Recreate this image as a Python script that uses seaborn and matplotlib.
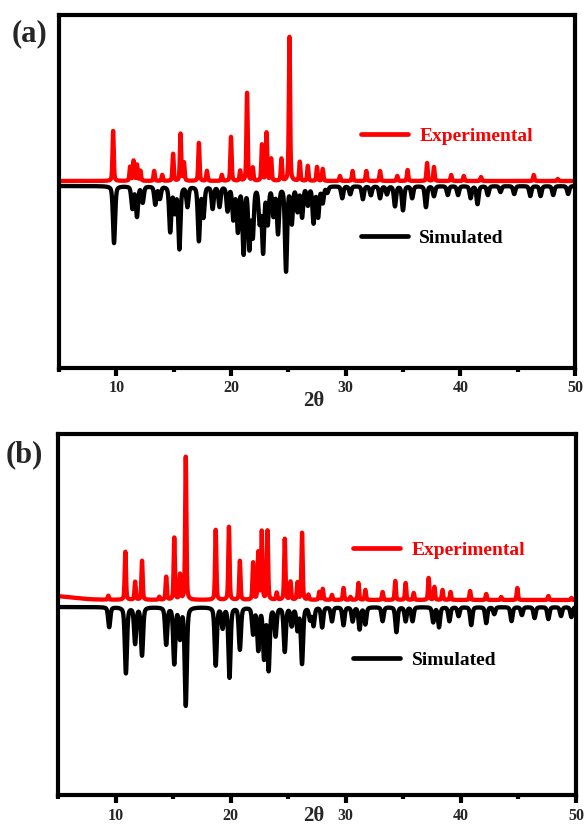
import numpy as np
import pandas as pd
import matplotlib
matplotlib.use("Agg")
import matplotlib.pyplot as plt
from matplotlib.lines import Line2D
from matplotlib.ticker import MultipleLocator
import seaborn as sns

# ---- peak lists (2theta position, intensity in arbitrary units) ----
# (a) experimental
a_exp_pos = [9.72, 11.2, 11.5, 11.8, 12.1, 13.3, 14.0, 14.95, 15.6, 15.9, 17.2, 17.9,
             19.2, 20.0, 20.8, 21.4, 21.9, 22.7, 23.1, 23.5, 24.4, 25.1, 26.0, 26.7,
             27.5, 28.0, 29.5, 30.6, 31.8, 33.0, 34.5, 35.4, 37.1, 37.7, 39.2, 40.3,
             41.8, 46.4, 48.5]
a_exp_int = [50, 14, 20, 16, 10, 10, 6, 27, 47, 18, 38, 10,
             6, 44, 10, 88, 13, 36, 48, 22, 22, 144, 19, 15,
             14, 12, 5, 10, 10, 10, 5, 11, 18, 14, 6, 5,
             4, 6, 2]
# (a) simulated
a_sim_pos = [9.8, 11.4, 11.8, 12.3, 13.4, 13.8, 14.7, 15.1, 15.5, 16.2, 17.2, 17.6,
             18.4, 19.0, 19.7, 20.2, 20.6, 21.1, 21.6, 21.9, 22.5, 22.8, 23.2, 23.7,
             24.1, 24.8, 25.3, 25.8, 26.2, 26.7, 27.2, 27.6, 28.0, 28.4, 29.7, 30.4,
             31.5, 32.2, 33.0, 33.6, 34.3, 35.0, 35.8, 37.0, 37.7, 38.9, 39.8, 40.9,
             41.5, 42.4, 43.5, 44.7, 46.1, 47.0, 48.1, 49.4]
a_sim_int = [57, 22, 30, 16, 18, 12, 45, 25, 62, 20, 54, 30,
             22, 20, 24, 32, 44, 66, 60, 48, 34, 64, 36, 28,
             46, 84, 36, 24, 30, 18, 36, 30, 16, 6, 12, 8,
             13, 9, 12, 8, 20, 24, 12, 21, 10, 9, 9, 12,
             18, 9, 6, 8, 10, 10, 9, 8]
# (b) experimental (first entry: broad low-angle background)
b_exp_pos = [4.5, 9.37, 10.85, 11.7, 12.3, 13.8, 14.4, 15.1, 15.6, 16.1, 18.7, 19.85,
             20.8, 21.95, 22.4, 22.7, 23.2, 24.0, 24.7, 25.2, 25.8, 26.2, 26.75, 27.7,
             28.0, 28.8, 29.8, 30.4, 31.1, 31.7, 33.2, 34.3, 35.2, 35.9, 37.2, 37.7,
             38.4, 39.1, 40.8, 42.2, 43.5, 44.9, 47.6, 49.6]
b_exp_int = [4, 4, 48, 18, 39, 3, 23, 62, 25, 143, 70, 73,
             39, 37, 47, 68, 69, 7, 61, 18, 17, 67, 5, 8,
             11, 5, 12, 3, 17, 10, 8, 19, 17, 7, 22, 13,
             10, 8, 9, 6, 3, 12, 4, 2]
b_exp_wid = [4.0] + [0.13] * (len(b_exp_pos) - 1)
# (b) simulated
b_sim_pos = [9.45, 10.9, 11.7, 12.3, 14.4, 15.1, 15.6, 16.1, 18.7, 19.3, 19.9, 20.8,
             21.95, 22.4, 22.9, 23.3, 23.9, 24.7, 25.3, 25.8, 26.2, 26.9, 27.2, 27.95,
             28.8, 29.8, 30.6, 31.2, 31.7, 33.2, 34.4, 35.2, 35.8, 37.6, 38.1, 39.0,
             39.8, 40.9, 42.2, 42.9, 44.4, 45.3, 46.4, 47.6, 48.7, 49.6]
b_sim_int = [20, 66, 36, 48, 37, 56, 30, 98, 58, 20, 70, 42,
             26, 42, 50, 62, 28, 44, 18, 22, 56, 12, 18, 20,
             14, 18, 14, 22, 17, 14, 25, 14, 14, 15, 20, 14,
             9, 18, 16, 7, 14, 8, 11, 12, 9, 10]

two_theta = np.round(np.arange(5.0, 50.0001, 0.01), 3)


def profile(pos, inten, fwhm, sign, offset):
    """Pseudo-Voigt sum of the listed reflections on the 2theta grid."""
    pos = np.asarray(pos, float)[:, None]
    inten = np.asarray(inten, float)[:, None]
    fwhm = np.broadcast_to(np.asarray(fwhm, float), pos.shape[:1])[:, None]
    d = two_theta[None, :] - pos
    g = np.exp(-4 * np.log(2) * (d / fwhm) ** 2)
    lor = 1.0 / (1.0 + 4 * (d / fwhm) ** 2)
    y = (inten * (0.6 * g + 0.4 * lor)).sum(axis=0)
    return offset + sign * y


panels = [
    dict(tag="(a)", exp=profile(a_exp_pos, a_exp_int, 0.13, 1, 2.5),
         sim=profile(a_sim_pos, a_sim_int, 0.22, -1, -2.5),
         ylim=(-184.5, 168.5), rect=[59 / 584, 1 - 368 / 827, 516 / 584, 353 / 827],
         leg_x=0.585, leg_exp_y=0.657, leg_sim_y=0.368, lab_y=-0.094,
         tag_xy=(12 / 584, 1 - 34 / 827)),
    dict(tag="(b)", exp=profile(b_exp_pos, b_exp_int, b_exp_wid, 1, 3.5),
         sim=profile(b_sim_pos, b_sim_int, 0.22, -1, -3.5),
         ylim=(-191.5, 169.5), rect=[58 / 584, 1 - 795 / 827, 518 / 584, 361 / 827],
         leg_x=0.57, leg_exp_y=0.679, leg_sim_y=0.374, lab_y=-0.058,
         tag_xy=(6 / 584, 1 - 455 / 827)),
]

sns.set_style("white")
plt.rcParams["font.family"] = ["Liberation Serif", "DejaVu Serif"]
plt.rcParams["font.weight"] = "bold"

fig = plt.figure(figsize=(5.84, 8.27), dpi=100)
RED = "#ff0000"
BLACK = "#000000"

for p in panels:
    ax = fig.add_axes(p["rect"])
    df = pd.DataFrame({"two_theta": two_theta, "exp": p["exp"], "sim": p["sim"]})
    sns.lineplot(data=df, x="two_theta", y="exp", ax=ax, color=RED, linewidth=3.1,
                 estimator=None, sort=False)
    sns.lineplot(data=df, x="two_theta", y="sim", ax=ax, color=BLACK, linewidth=3.1,
                 estimator=None, sort=False)
    ax.set_xlim(5, 50)
    ax.set_ylim(*p["ylim"])
    ax.set_yticks([])
    ax.set_ylabel("")
    ax.xaxis.set_major_locator(MultipleLocator(10))
    ax.xaxis.set_minor_locator(MultipleLocator(5))
    ax.tick_params(axis="x", which="major", direction="out", length=6, width=3,
                   labelsize=11.5, pad=3, bottom=True, color=BLACK)
    ax.tick_params(axis="x", which="minor", direction="out", length=3, width=3,
                   bottom=True, color=BLACK)
    for lbl in ax.get_xticklabels():
        lbl.set_fontweight("bold")
    for s in ax.spines.values():
        s.set_linewidth(3)
        s.set_color(BLACK)
    ax.set_xlabel("2θ", fontsize=15, fontweight="bold", va="center")
    ax.xaxis.set_label_coords(0.494, p["lab_y"])

    h_exp = Line2D([], [], color=RED, linewidth=3.4)
    h_sim = Line2D([], [], color=BLACK, linewidth=3.4)
    leg1 = ax.legend([h_exp], ["Experimental"], loc="center left",
                     bbox_to_anchor=(p["leg_x"], p["leg_exp_y"]), frameon=False,
                     handlelength=2.4, handletextpad=0.6, borderpad=0, borderaxespad=0,
                     prop=dict(family="Liberation Serif", weight="bold", size=14),
                     labelcolor=RED)
    ax.add_artist(leg1)
    ax.legend([h_sim], ["Simulated"], loc="center left",
              bbox_to_anchor=(p["leg_x"], p["leg_sim_y"]), frameon=False,
              handlelength=2.4, handletextpad=0.6, borderpad=0, borderaxespad=0,
              prop=dict(family="Liberation Serif", weight="bold", size=14),
              labelcolor=BLACK)

    fig.text(p["tag_xy"][0], p["tag_xy"][1], p["tag"], fontsize=22, fontweight="bold",
             ha="left", va="center")

fig.savefig("out.png", dpi=100, facecolor="white")
